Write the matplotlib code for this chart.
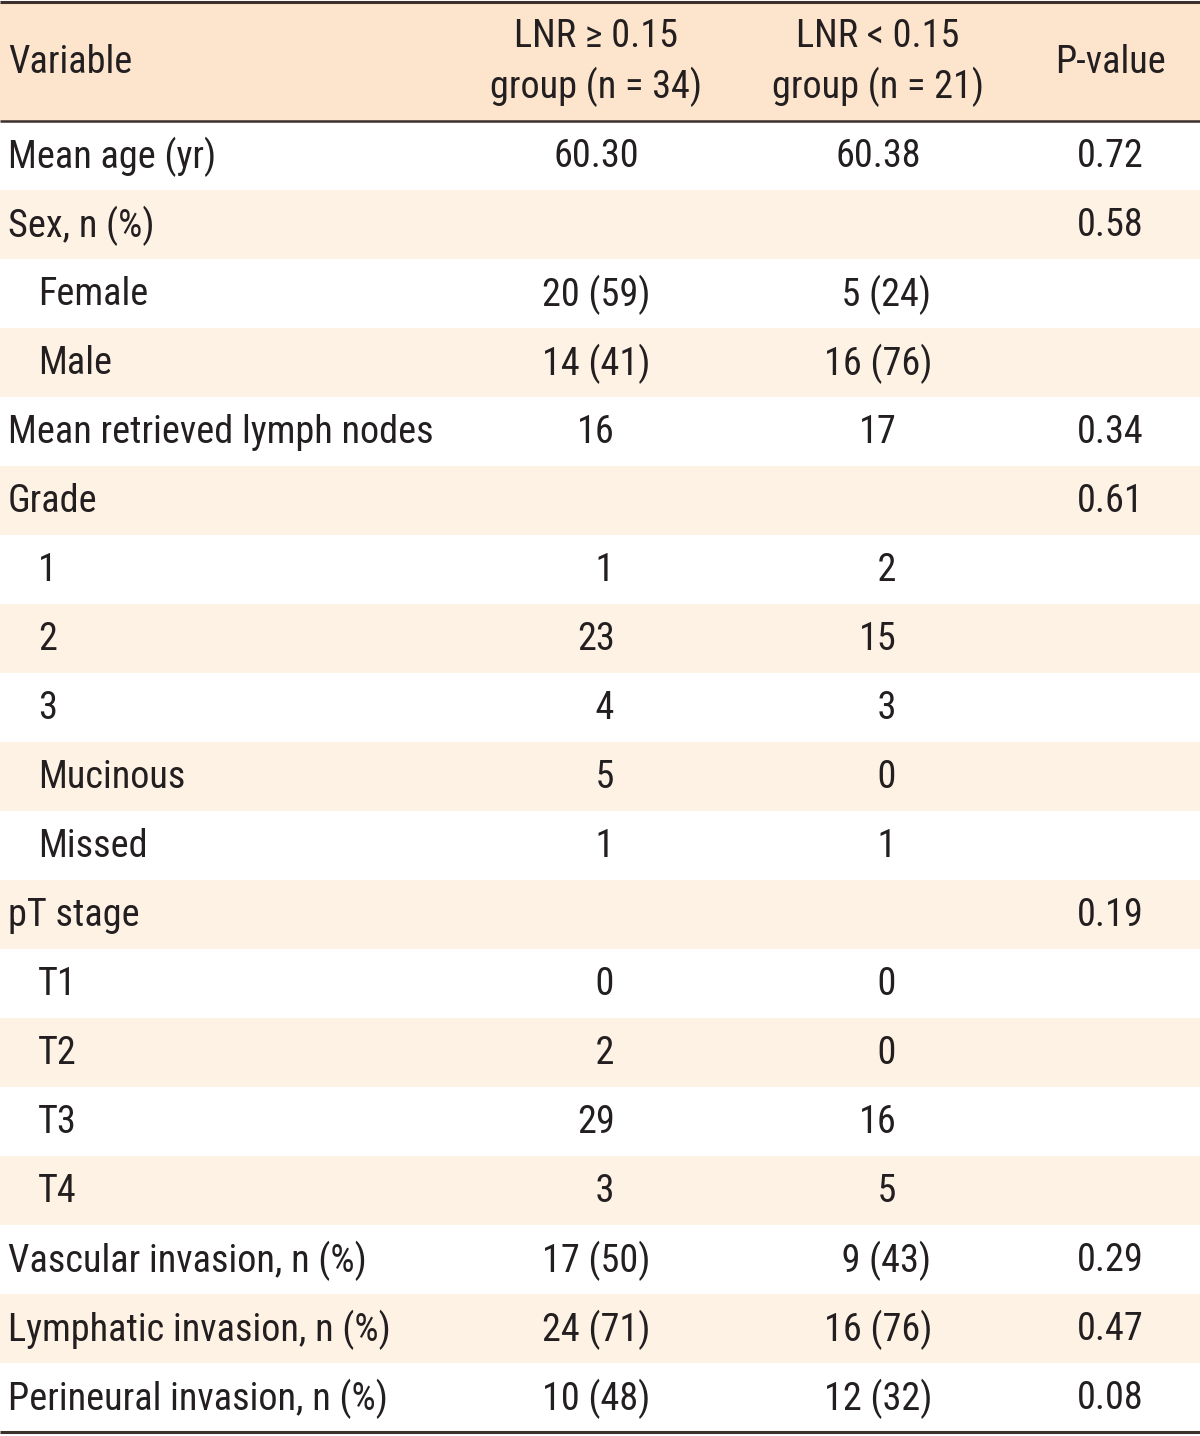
import matplotlib.pyplot as plt
from matplotlib.patches import Rectangle
from matplotlib import font_manager

# table content
headers = ["Variable", "LNR \u2265 0.15\ngroup (n = 34)", "LNR < 0.15\ngroup (n = 21)", "P-value"]
variables = ["Mean age (yr)", "Sex, n (%)", "Female", "Male", "Mean retrieved lymph nodes",
             "Grade", "1", "2", "3", "Mucinous", "Missed", "pT stage", "T1", "T2", "T3", "T4",
             "Vascular invasion, n (%)", "Lymphatic invasion, n (%)", "Perineural invasion, n (%)"]
indented = [False, False, True, True, False, False, True, True, True, True, True, False,
            True, True, True, True, False, False, False]
high_group = ["60.30", "", "20 (59)", "14 (41)", "16", "", "1", "23", "4", "5", "1", "",
              "0", "2", "29", "3", "17 (50)", "24 (71)", "10 (48)"]
low_group = ["60.38", "", "5 (24)", "16 (76)", "17", "", "2", "15", "3", "0", "1", "",
             "0", "0", "16", "5", "9 (43)", "16 (76)", "12 (32)"]
p_values = ["0.72", "0.58", "", "", "0.34", "0.61", "", "", "", "", "", "0.19",
            "", "", "", "", "0.29", "0.47", "0.08"]

# pick a condensed sans if one is installed
names = {f.name for f in font_manager.fontManager.ttflist}
fam = "DejaVu Sans"
for cand in ["Liberation Sans Narrow", "Arial Narrow", "Roboto Condensed", "Archivo Narrow",
             "PT Sans Narrow", "Pragati Narrow", "Fira Sans Condensed", "IBM Plex Sans Condensed"]:
    if cand in names:
        fam = cand
        break
plt.rcParams['font.family'] = [fam, 'DejaVu Sans']

W, H = 1200, 1436
fig = plt.figure(figsize=(W / 100, H / 100), dpi=100)
ax = fig.add_axes([0, 0, 1, 1])
ax.set_xlim(0, W)
ax.set_ylim(H, 0)
ax.axis("off")

header_fill = "#fde4cd"
stripe_fill = "#fef2e5"
text_col = "#231f20"
line_col = "#3b302b"
fs = 27.5 if fam != "DejaVu Sans" else 23

top, head_bot, row_h = 2, 121, 69
col_x = [8, 596, 878, 1110]
indent_x = 38


def pad(s, width):
    # pad with spaces so numbers line up like the original (two spaces = one digit)
    n = sum(c.isdigit() for c in s.split(" (")[0])
    return "  " * max(0, width - n) + s if s else s


ax.add_patch(Rectangle((0, top), W, head_bot - top, color=header_fill, lw=0))
hy = (top + head_bot) / 2 + 1
ax.text(col_x[0], hy, headers[0], ha="left", va="center", fontsize=fs, color=text_col)
for j in range(1, 4):
    ax.text(col_x[j], hy, headers[j], ha="center", va="center", fontsize=fs,
            color=text_col, linespacing=1.38)

for i, var in enumerate(variables):
    y0 = head_bot + i * row_h
    if i % 2 == 1:
        ax.add_patch(Rectangle((0, y0), W, row_h, color=stripe_fill, lw=0))
    yc = y0 + row_h / 2 + 1
    ax.text(indent_x if indented[i] else col_x[0], yc, var, ha="left", va="center",
            fontsize=fs, color=text_col)
    ax.text(col_x[1], yc, pad(high_group[i], 2), ha="center", va="center", fontsize=fs, color=text_col)
    ax.text(col_x[2], yc, pad(low_group[i], 2), ha="center", va="center", fontsize=fs, color=text_col)
    ax.text(col_x[3], yc, p_values[i], ha="center", va="center", fontsize=fs, color=text_col)

bottom = head_bot + len(variables) * row_h
ax.plot([0, W], [top, top], color=line_col, lw=2.2, solid_capstyle="butt")
ax.plot([0, W], [head_bot, head_bot], color=line_col, lw=1.8, solid_capstyle="butt")
ax.plot([0, W], [bottom, bottom], color=line_col, lw=2.2, solid_capstyle="butt")

fig.savefig("out.png", dpi=100)
